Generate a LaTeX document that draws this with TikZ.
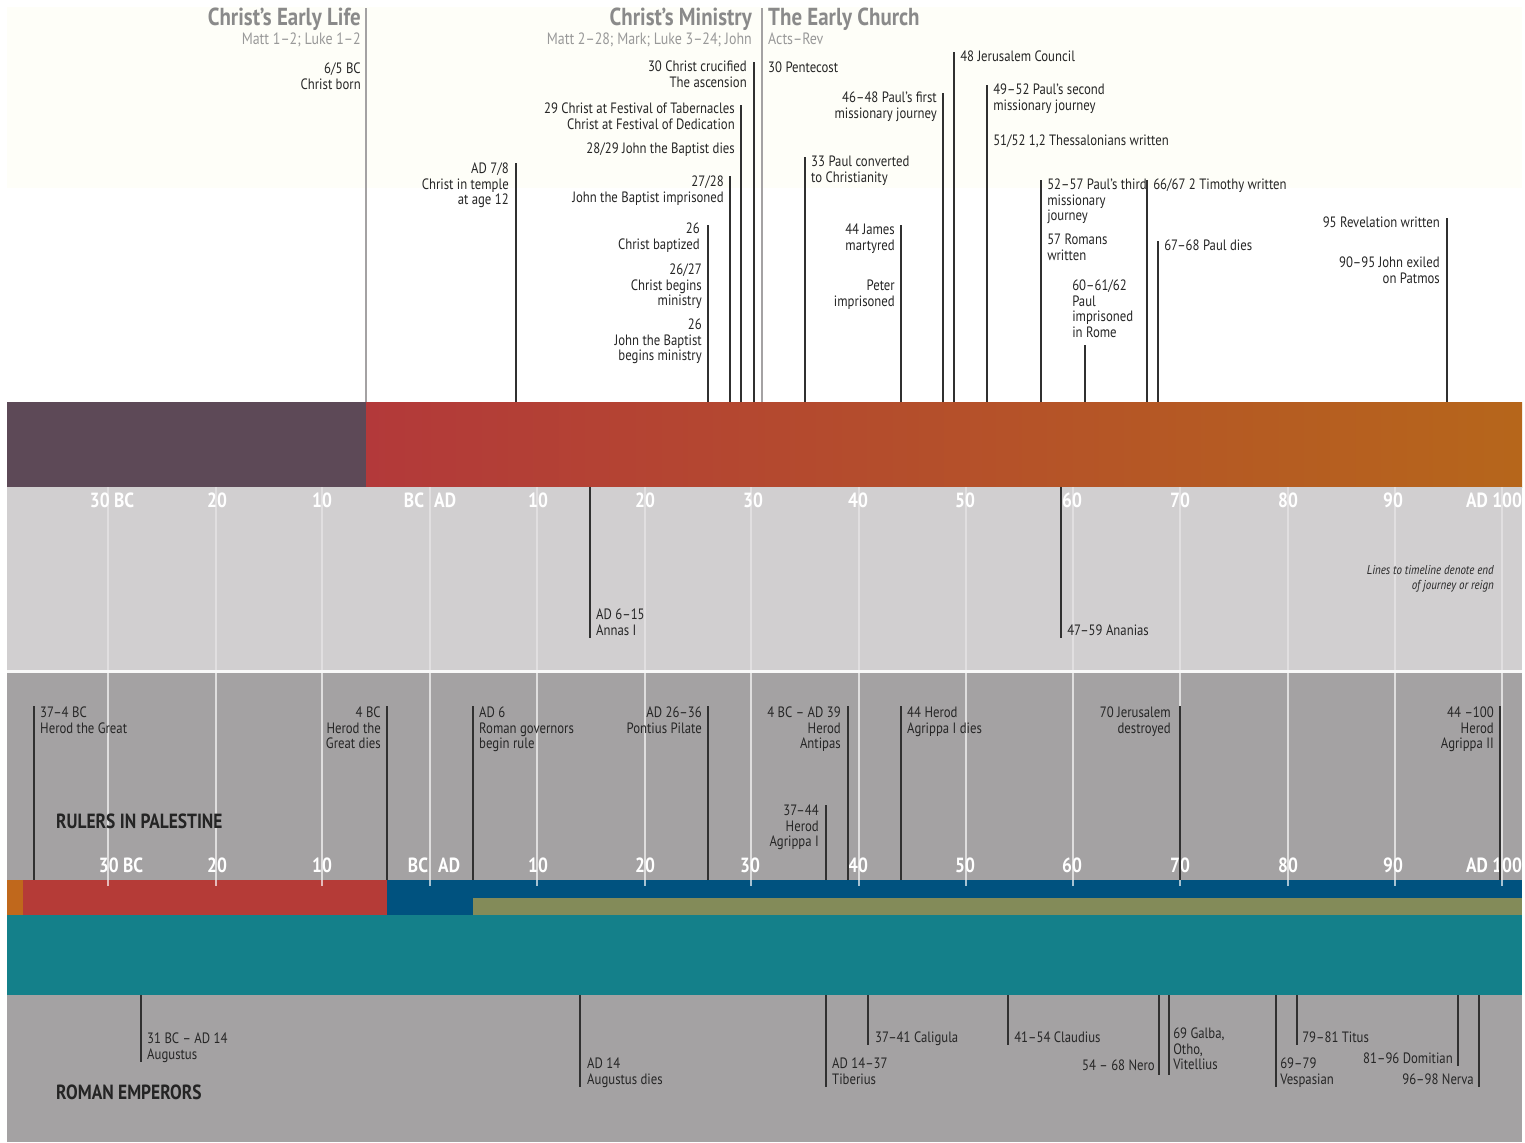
\documentclass[tikz,border=0pt]{standalone}
\usepackage{fontspec}
\setmainfont{PT Sans}[FakeStretch=0.85]
\usetikzlibrary{positioning}

\definecolor{cream}{HTML}{FEFEF8}
\definecolor{evtext}{HTML}{262626}
\definecolor{evline}{HTML}{303030}
\definecolor{hdgray}{HTML}{8A8A8A}
\definecolor{subgray}{HTML}{999999}
\definecolor{earlypurple}{HTML}{5D4957}
\definecolor{chred}{HTML}{B3393A}
\definecolor{chorange}{HTML}{B6661B}
\definecolor{lgray}{HTML}{D1CFD0}
\definecolor{mgray}{HTML}{A4A2A3}
\definecolor{rorange}{HTML}{C0681C}
\definecolor{rred}{HTML}{B53B37}
\definecolor{rblue}{HTML}{00527F}
\definecolor{rolive}{HTML}{838B59}
\definecolor{empteal}{HTML}{14808A}
\definecolor{bandtext}{HTML}{242424}

\begin{document}
\begin{tikzpicture}[x=0.03cm, y=-0.03cm,
    ev/.style={font=\fontsize{12.8}{13.2}\selectfont, text=evtext, inner sep=0pt},
    evl/.style={ev, align=left, anchor=north west},
    evr/.style={ev, align=right, anchor=north east},
    evline/.style={draw=evline, line width=1.2pt},
    hdline/.style={draw=mgray, line width=2.2pt},
    head/.style={font=\fontsize{21}{24}\selectfont\bfseries, text=hdgray, inner sep=0pt},
    subhead/.style={font=\fontsize{14}{16}\selectfont, text=subgray, inner sep=0pt},
    yearlab/.style={font=\fontsize{17.5}{19}\selectfont\bfseries, text=white, inner sep=0pt},
    bandlab/.style={font=\fontsize{17.5}{19}\selectfont\bfseries, text=bandtext, inner sep=0pt, anchor=west},
    gridline/.style={draw=white, line width=1.1pt}
  ]

  \useasboundingbox (0,0) rectangle (1525,1142);
  \fill[white] (0,0) rectangle (1525,1142);

  % backgrounds and bars
  \fill[cream] (7,7) rectangle (1522,188);
  \fill[earlypurple] (7,402) rectangle (366,487);
  \shade[left color=chred, right color=chorange] (366,402) rectangle (1522,487);
  \fill[lgray] (7,487) rectangle (1522,670);
  \fill[white!85!lgray] (7,670) rectangle (1522,673);
  \fill[mgray] (7,673) rectangle (1522,880);
  \fill[rorange] (7,880) rectangle (23,915);
  \fill[rred] (23,880) rectangle (387,915);
  \fill[rblue] (387,880) rectangle (1522,915);
  \fill[rolive] (473,898) rectangle (1522,915);
  \fill[empteal] (7,915) rectangle (1522,995);
  \fill[mgray] (7,995) rectangle (1522,1142);

  \coordinate (churchtop) at (0,402);
  \coordinate (midtop) at (0,487);
  \coordinate (rulertop) at (0,880);
  \coordinate (empbottom) at (0,995);

  \foreach \g in {108,216,322,430,537,645,751,859,966,1073,1180,1288,1395,1502} {
    \draw[gridline, opacity=0.35] (\g,487) -- (\g,670);
    \draw[gridline, opacity=0.65] (\g,673) -- (\g,886);
  }

  % year scales
  \foreach \x/\t [count=\i] in {112/30 BC,217/20,322/10,430/BC\enspace AD,538/10,645/20,753/30,
      858/40,965/50,1072/60,1180/70,1288/80,1393/90,1494/AD 100}
    \node[yearlab] (up\i) at (\x,500) {\t};
  \foreach \x/\t [count=\i] in {121/30 BC,217/20,322/10,434/BC\enspace AD,538/10,645/20,750/30,
      858/40,965/50,1072/60,1180/70,1288/80,1393/90,1494/AD 100}
    \node[yearlab] (lo\i) at (\x,865) {\t};

  % headings
  \coordinate (birth) at (366,8);
  \coordinate (church) at (762,8);
  \draw[hdline] (birth) -- (birth |- churchtop);
  \draw[hdline] (church) -- (church |- churchtop);
  \node[head, anchor=base east] (hlife) at (361,25) {Christ’s Early Life};
  \node[subhead, anchor=base east] (slife) at (361,44) {Matt 1–2; Luke 1–2};
  \node[head, anchor=base east] (hmin) at (752,25) {Christ’s Ministry};
  \node[subhead, anchor=base east] (smin) at (752,44) {Matt 2–28; Mark; Luke 3–24; John};
  \node[head, anchor=base west] (hchurch) at (768,25) {The Early Church};
  \node[subhead, anchor=base west] (schurch) at (768,44) {Acts–Rev};

  % events above the timeline
  \foreach \n/\x/\y in {temple/516/163, crucified/754/62, tabern/741/105, jbprison/730/176,
      baptized/708/225, first/943/93, council/954/52, second/987/85, converted/805/157,
      james/901/225, third/1041/180, rome/1085/345, timothy/1147/180, pauldies/1158/241,
      revelation/1447/218} {
    \coordinate (c\n) at (\x,\y);
    \draw[evline] (c\n) -- (c\n |- churchtop);
  }

  \node[evr] (born) at (361,63) {6/5 BC\\Christ born};
  \node[evr] (temple) at (509,163) {AD 7/8\\Christ in temple\\at age 12};
  \node[evr] (crucified) at (747,61) {30 Christ crucified\\The ascension};
  \node[evr] (tabern) at (735,103) {29 Christ at Festival of Tabernacles\\Christ at Festival of Dedication};
  \node[evr] (jbdies) at (735,143) {28/29 John the Baptist dies};
  \node[evr] (jbprison) at (724,176) {27/28\\John the Baptist imprisoned};
  \node[evr] (baptized) at (700,223) {26\\Christ baptized};
  \node[evr] (begins) at (702,264) {26/27\\Christ begins\\ministry};
  \node[evr] (jbbegins) at (702,319) {26\\John the Baptist\\begins ministry};
  \node[evl] (pentecost) at (768,62) {30 Pentecost};
  \node[evr] (first) at (937,92) {46–48 Paul’s first\\missionary journey};
  \node[evl] (council) at (960,51) {48 Jerusalem Council};
  \node[evl] (second) at (993,84) {49–52 Paul’s second\\missionary journey};
  \node[evl] (thess) at (993,135) {51/52 1,2 Thessalonians written};
  \node[evl] (converted) at (811,156) {33 Paul converted\\to Christianity};
  \node[evr] (james) at (895,224) {44 James\\martyred};
  \node[evr] (peter) at (895,280) {Peter\\imprisoned};
  \node[evl] (third) at (1047,179) {52–57 Paul’s third\\missionary\\journey};
  \node[evl] (romans) at (1047,234) {57 Romans\\written};
  \node[evl] (rome) at (1072,280) {60–61/62\\Paul\\imprisoned\\in Rome};
  \node[evl] (timothy) at (1153,179) {66/67 2 Timothy written};
  \node[evl] (pauldies) at (1164,240) {67–68 Paul dies};
  \node[evr] (revelation) at (1440,217) {95 Revelation written};
  \node[evr] (patmos) at (1440,257) {90–95 John exiled\\on Patmos};

  % high priests
  \foreach \n/\x in {annas/590, ananias/1061} {
    \coordinate (p\n) at (\x,638);
    \draw[evline] (p\n |- midtop) -- (p\n);
  }
  \node[evl] (annas) at (596,609) {AD 6–15\\Annas I};
  \node[evl] (ananias) at (1067,625) {47–59 Ananias};
  \node[evr, font=\fontsize{11}{13}\selectfont\itshape] (note) at (1494,565)
    {Lines to timeline denote end\\of journey or reign};

  % rulers in Palestine
  \foreach \n/\x/\y in {hgreat/34/706, hdies/387/706, governors/473/706, pilate/708/706,
      antipas/848/706, agrippa/826/805, agdies/901/706, jerusalem/1180/706, agrippatwo/1500/706} {
    \coordinate (r\n) at (\x,\y);
    \draw[evline] (r\n) -- (r\n |- rulertop);
  }
  \node[evl] (hgreat) at (40,707) {37–4 BC\\Herod the Great};
  \node[evr] (hdies) at (381,707) {4 BC\\Herod the\\Great dies};
  \node[evl] (governors) at (479,707) {AD 6\\Roman governors\\begin rule};
  \node[evr] (pilate) at (702,707) {AD 26–36\\Pontius Pilate};
  \node[evr] (antipas) at (841,707) {4 BC – AD 39\\Herod\\Antipas};
  \node[evr] (agrippa) at (819,805) {37–44\\Herod\\Agrippa I};
  \node[evl] (agdies) at (907,707) {44 Herod\\Agrippa I dies};
  \node[evr] (jerusalem) at (1171,707) {70 Jerusalem\\destroyed};
  \node[evr] (agrippatwo) at (1494,707) {44 –100\\Herod\\Agrippa II};
  \node[bandlab] (rulers) at (56,821) {RULERS IN PALESTINE};

  % Roman emperors
  \foreach \n/\x/\y in {augustus/141/1062, augdies/580/1087, tiberius/826/1087,
      caligula/868/1045, claudius/1008/1045, nero/1159/1075, galba/1169/1075,
      vespasian/1276/1087, titus/1297/1045, domitian/1458/1066, nerva/1479/1087} {
    \coordinate (e\n) at (\x,\y);
    \draw[evline] (e\n |- empbottom) -- (e\n);
  }
  \node[evl] (augustus) at (147,1033) {31 BC – AD 14\\Augustus};
  \node[evl] (augdies) at (587,1058) {AD 14\\Augustus dies};
  \node[evl] (tiberius) at (832,1058) {AD 14–37\\Tiberius};
  \node[evl] (caligula) at (875,1032) {37–41 Caligula};
  \node[evl] (claudius) at (1014,1032) {41–54 Claudius};
  \node[evr] (nero) at (1155,1060) {54 – 68 Nero};
  \node[evl] (galba) at (1173,1028) {69 Galba,\\Otho,\\Vitellius};
  \node[evl] (vespasian) at (1280,1058) {69–79\\Vespasian};
  \node[evl] (titus) at (1302,1032) {79–81 Titus};
  \node[evr] (domitian) at (1453,1053) {81–96 Domitian};
  \node[evr] (nerva) at (1474,1074) {96–98 Nerva};
  \node[bandlab] (emperors) at (56,1092) {ROMAN EMPERORS};

\end{tikzpicture}
\end{document}
